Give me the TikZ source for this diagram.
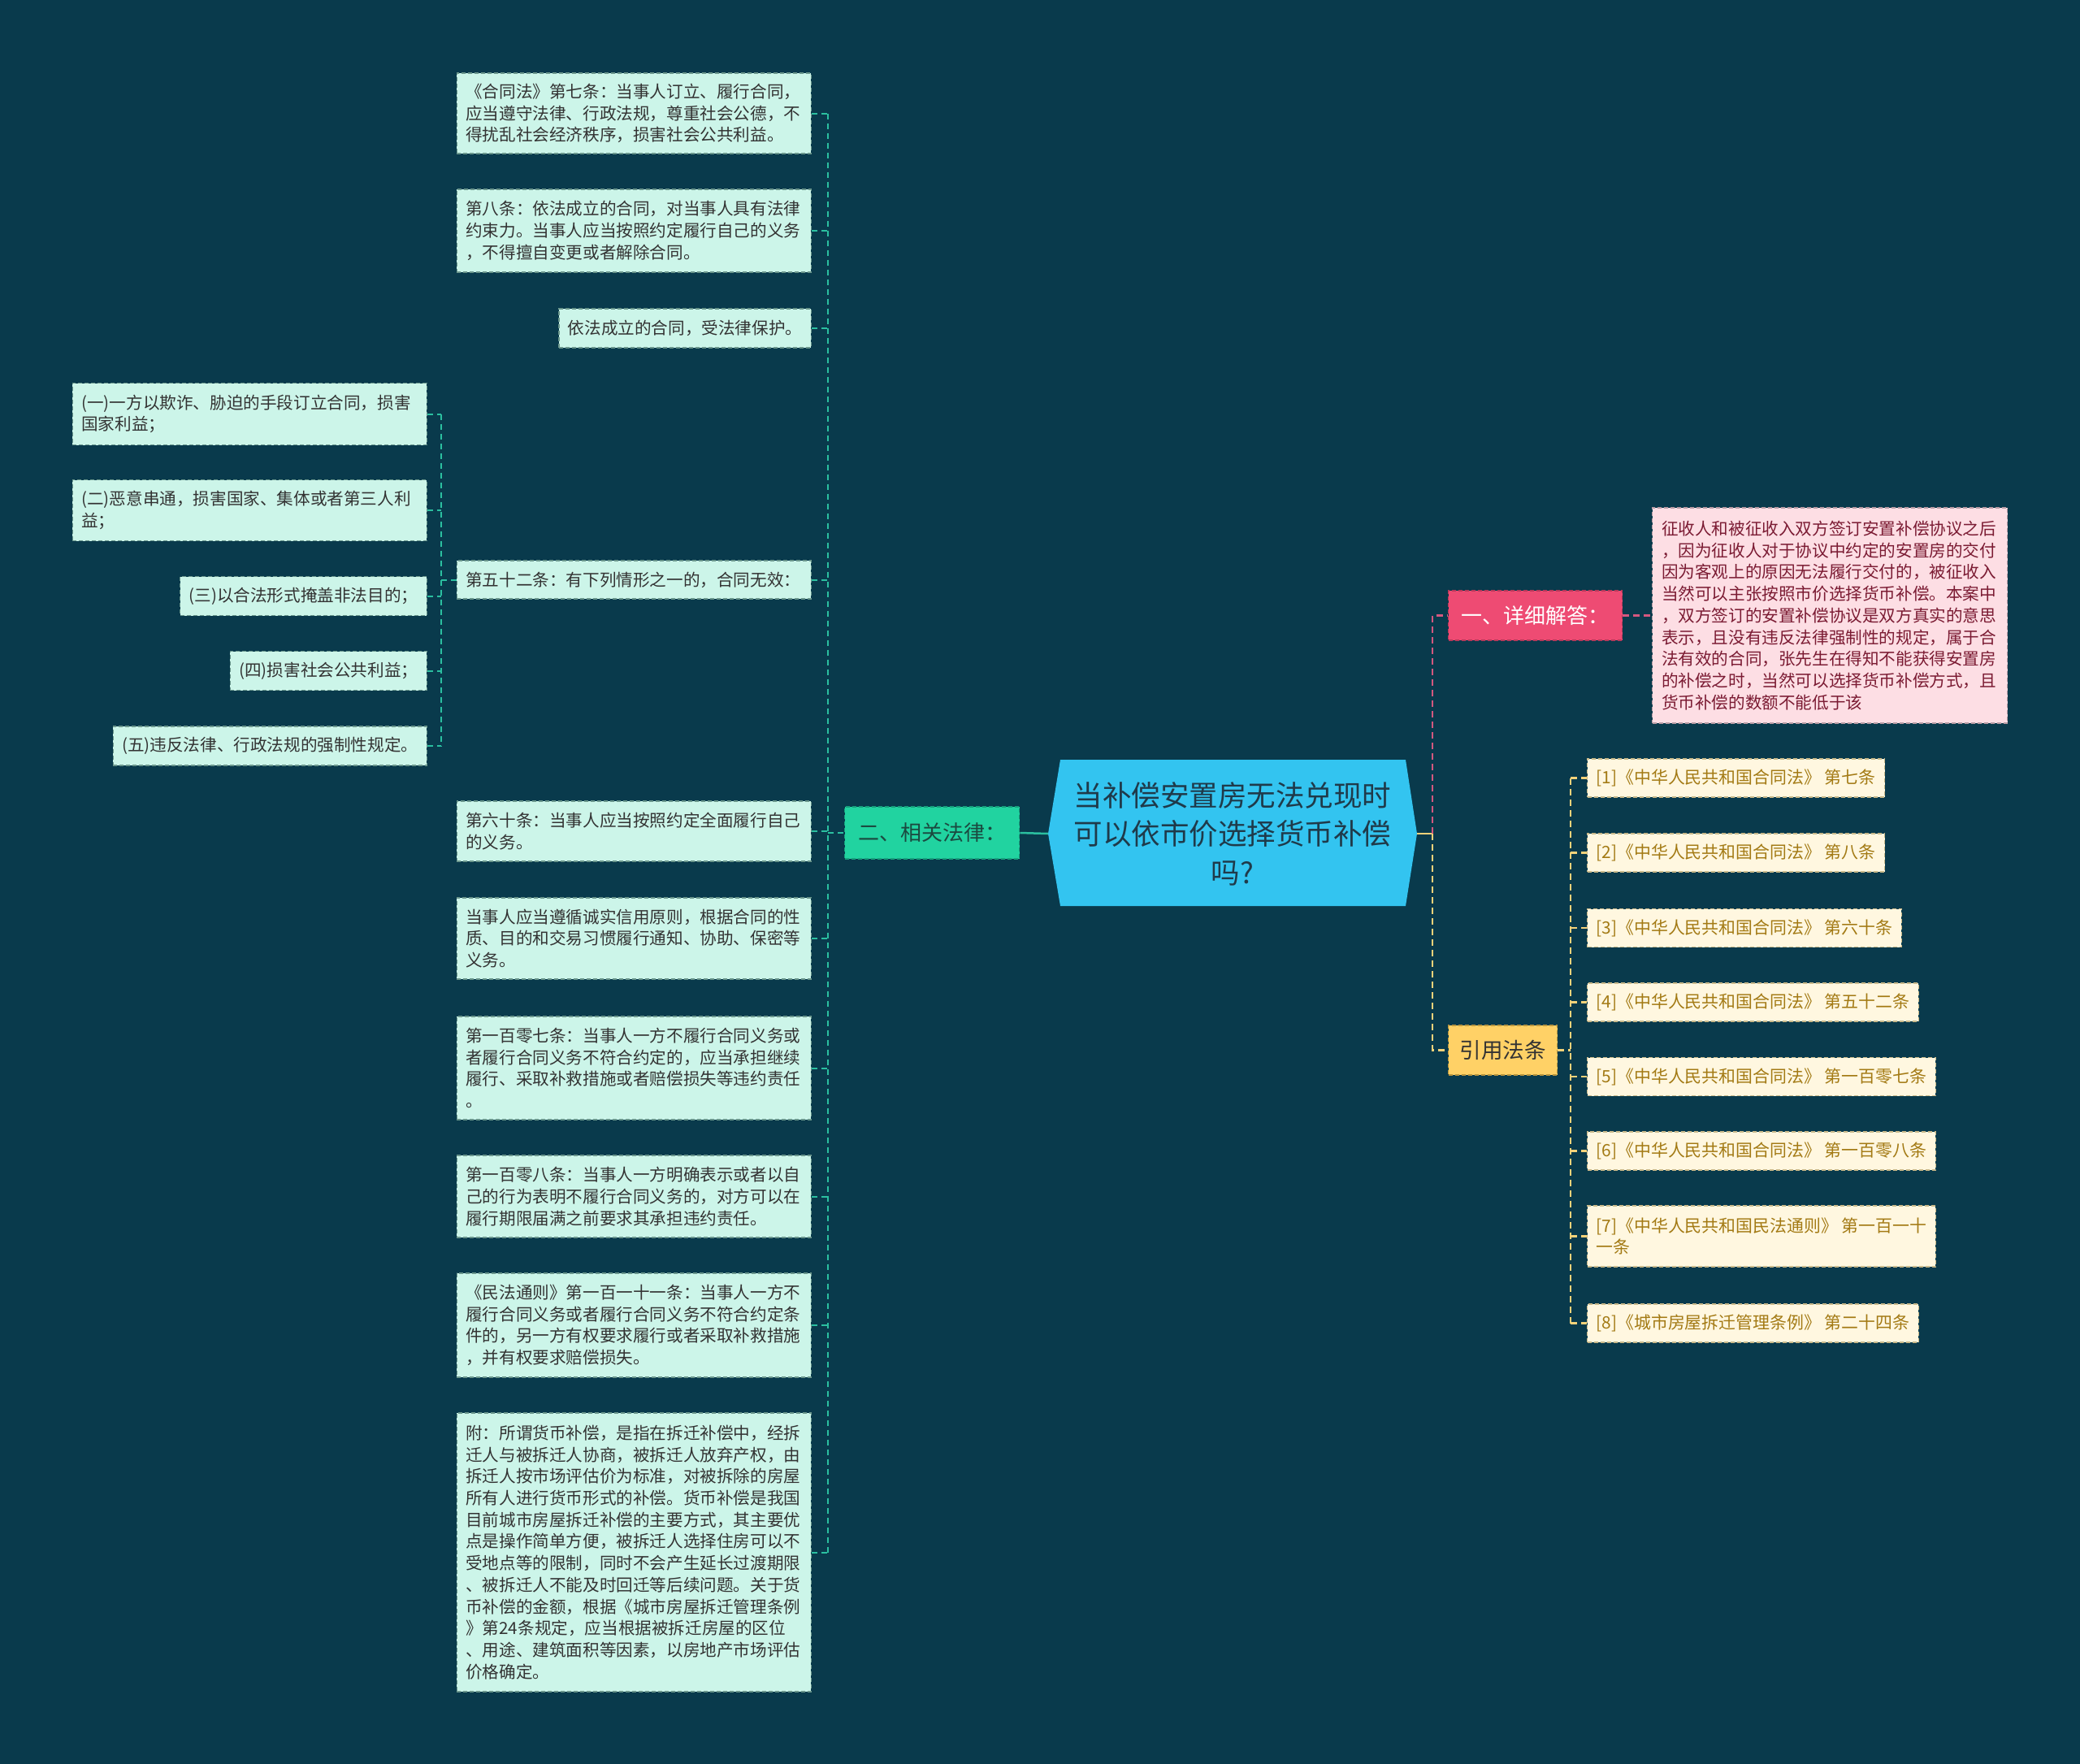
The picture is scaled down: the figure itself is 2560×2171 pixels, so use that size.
\documentclass[tikz,border=0pt]{standalone}
\usepackage{fontspec}
\setmainfont{Noto Sans CJK SC}
\definecolor{bgc}{HTML}{093A4C}
\definecolor{mint}{HTML}{CCF5E9}
\definecolor{mintb}{HTML}{6A968C}
\definecolor{leaftext}{HTML}{333333}
\definecolor{relc}{HTML}{21D3A0}
\definecolor{relb}{HTML}{17A07C}
\definecolor{relt}{HTML}{1B4A40}
\definecolor{cenc}{HTML}{33C4F0}
\definecolor{cent}{HTML}{1F3A4A}
\definecolor{ansc}{HTML}{EE4B73}
\definecolor{ansb}{HTML}{B8385A}
\definecolor{pinkc}{HTML}{FDDEE4}
\definecolor{pinkb}{HTML}{B99CA5}
\definecolor{pinkt}{HTML}{7B1B33}
\definecolor{citec}{HTML}{FFD166}
\definecolor{citeb}{HTML}{B8953F}
\definecolor{refc}{HTML}{FFF7E0}
\definecolor{refb}{HTML}{C9B98A}
\definecolor{reft}{HTML}{A37A14}
\definecolor{tealln}{HTML}{2BBFA0}
\definecolor{pinkln}{HTML}{D4587F}
\definecolor{yelln}{HTML}{F4D27A}
\begin{document}
\begin{tikzpicture}[x=1pt,y=-1pt,
  boxbase/.style={dash pattern=on 5pt off 3pt, line width=1.3pt, inner ysep=4pt},
  leaf/.style={boxbase, draw=mintb, fill=mint, text=leaftext,
    font=\fontsize{20.6}{26.7}\selectfont, align=left, inner xsep=11pt},
  wide/.style={leaf, text width=414pt},
  refbox/.style={boxbase, draw=refb, fill=refc, text=reft,
    font=\fontsize{20.9}{26.7}\selectfont, align=left, inner xsep=11pt, minimum height=47pt, anchor=west},
  tealdash/.style={draw=tealln, line width=2pt, dash pattern=on 7pt off 5pt},
  tealsolid/.style={draw=tealln, line width=2.5pt},
  pinkdash/.style={draw=pinkln, line width=2.5pt, dash pattern=on 8pt off 5pt},
  yelldash/.style={draw=yelln, line width=2.5pt, dash pattern=on 8pt off 5pt},
  yellsolid/.style={draw=yelln, line width=2.5pt}]
\fill[bgc] (0,0) rectangle (2560,2171);
\useasboundingbox (0,0) rectangle (2560,2171);

% left column
\node[wide, anchor=east, minimum height=99pt] (L1) at (999,139.5) {《合同法》第七条：当事人订立、履行合同，\\应当遵守法律、行政法规，尊重社会公德，不\\得扰乱社会经济秩序，损害社会公共利益。};
\node[wide, anchor=east, minimum height=102pt] (L2) at (999,284) {第八条：依法成立的合同，对当事人具有法律\\约束力。当事人应当按照约定履行自己的义务\\，不得擅自变更或者解除合同。};
\node[leaf, anchor=east, minimum height=48pt] (L3) at (999,404) {依法成立的合同，受法律保护。};
\node[wide, anchor=east, minimum height=47pt] (L52) at (999,713.5) {第五十二条：有下列情形之一的，合同无效：};
\node[wide, anchor=east, minimum height=74pt] (L60) at (999,1023) {第六十条：当事人应当按照约定全面履行自己\\的义务。};
\node[wide, anchor=east, minimum height=100pt] (Lcx) at (999,1155) {当事人应当遵循诚实信用原则，根据合同的性\\质、目的和交易习惯履行通知、协助、保密等\\义务。};
\node[wide, anchor=east, minimum height=127pt] (L107) at (999,1314.5) {第一百零七条：当事人一方不履行合同义务或\\者履行合同义务不符合约定的，应当承担继续\\履行、采取补救措施或者赔偿损失等违约责任\\。};
\node[wide, anchor=east, minimum height=101pt] (L108) at (999,1472.5) {第一百零八条：当事人一方明确表示或者以自\\己的行为表明不履行合同义务的，对方可以在\\履行期限届满之前要求其承担违约责任。};
\node[wide, anchor=east, minimum height=128pt] (Lmf) at (999,1631) {《民法通则》第一百一十一条：当事人一方不\\履行合同义务或者履行合同义务不符合约定条\\件的，另一方有权要求履行或者采取补救措施\\，并有权要求赔偿损失。};
\node[wide, anchor=east, minimum height=343pt] (Lfu) at (999,1910.5) {附：所谓货币补偿，是指在拆迁补偿中，经拆\\迁人与被拆迁人协商，被拆迁人放弃产权，由\\拆迁人按市场评估价为标准，对被拆除的房屋\\所有人进行货币形式的补偿。货币补偿是我国\\目前城市房屋拆迁补偿的主要方式，其主要优\\点是操作简单方便，被拆迁人选择住房可以不\\受地点等的限制，同时不会产生延长过渡期限\\、被拆迁人不能及时回迁等后续问题。关于货\\币补偿的金额，根据《城市房屋拆迁管理条例\\》第24条规定，应当根据被拆迁房屋的区位\\、用途、建筑面积等因素，以房地产市场评估\\价格确定。};

% sub items of 52
\node[wide, anchor=east, minimum height=76pt] (S1) at (526,509.5) {(一)一方以欺诈、胁迫的手段订立合同，损害\\国家利益；};
\node[wide, anchor=east, minimum height=75pt] (S2) at (526,628) {(二)恶意串通，损害国家、集体或者第三人利\\益；};
\node[leaf, anchor=east, minimum height=48pt] (S3) at (526,733.5) {(三)以合法形式掩盖非法目的；};
\node[leaf, anchor=east, minimum height=48pt] (S4) at (526,825.5) {(四)损害社会公共利益；};
\node[leaf, anchor=east, minimum height=48pt] (S5) at (526,918) {(五)违反法律、行政法规的强制性规定。};

% central
\coordinate (cw) at (1290,1026);
\coordinate (ce) at (1744,1026);
\fill[cenc] (cw) -- (1305,935) -- (1730,935) -- (ce) -- (1730,1115) -- (1305,1115) -- cycle;
\node[text=cent, font=\fontsize{35.5}{47.5}\selectfont, align=center] (C) at (1517,1026) {当补偿安置房无法兑现时\\可以依市价选择货币补偿\\吗?};

% branch nodes
\node[boxbase, draw=relb, fill=relc, text=relt, font=\fontsize{26}{30}\selectfont, anchor=west, minimum width=215pt, minimum height=64pt] (rel) at (1039,1025) {二、相关法律：};
\node[boxbase, draw=ansb, fill=ansc, text=white, font=\fontsize{26}{30}\selectfont, anchor=west, minimum width=214pt, minimum height=61pt] (ans) at (1782,757.5) {一、详细解答：};
\node[boxbase, draw=pinkb, fill=pinkc, text=pinkt, font=\fontsize{20.6}{26.7}\selectfont, align=left, text width=414pt, inner xsep=11.5pt, anchor=west, minimum height=265pt] (ansbox) at (2033,757.5) {征收人和被征收入双方签订安置补偿协议之后\\，因为征收人对于协议中约定的安置房的交付\\因为客观上的原因无法履行交付的，被征收入\\当然可以主张按照市价选择货币补偿。本案中\\，双方签订的安置补偿协议是双方真实的意思\\表示，且没有违反法律强制性的规定，属于合\\法有效的合同，张先生在得知不能获得安置房\\的补偿之时，当然可以选择货币补偿方式，且\\货币补偿的数额不能低于该};
\node[boxbase, draw=citeb, fill=citec, text=leaftext, font=\fontsize{26.5}{30}\selectfont, anchor=west, minimum width=134pt, minimum height=61pt] (cite) at (1782,1292.5) {引用法条};

% references
\node[refbox] (R1) at (1953,957.5) {[1]《中华人民共和国合同法》 第七条};
\node[refbox] (R2) at (1953,1049.5) {[2]《中华人民共和国合同法》 第八条};
\node[refbox] (R3) at (1953,1142) {[3]《中华人民共和国合同法》 第六十条};
\node[refbox] (R4) at (1953,1233.5) {[4]《中华人民共和国合同法》 第五十二条};
\node[refbox] (R5) at (1953,1325) {[5]《中华人民共和国合同法》 第一百零七条};
\node[refbox] (R6) at (1953,1416.5) {[6]《中华人民共和国合同法》 第一百零八条};
\node[refbox, minimum height=75pt] (R7) at (1953,1521.5) {[7]《中华人民共和国民法通则》 第一百一十\\一条};
\node[refbox] (R8) at (1953,1628.5) {[8]《城市房屋拆迁管理条例》 第二十四条};

% trunks
\coordinate (lt) at (1019,1025);
\coordinate (st) at (543,713.5);
\coordinate (rt) at (1763,1026);
\coordinate (ct) at (1933,1292.5);

% left connectors
\draw[tealdash] (L1.east -| lt) -- (Lfu.east -| lt);
\foreach \n in {L1,L2,L3,L52,L60,Lcx,L107,L108,Lmf,Lfu}
  \draw[tealdash] (\n.east) -- (\n.east -| lt);
\draw[tealdash] (lt) -- (rel.west);
\draw[tealsolid] (rel.east) -- (cw);
\draw[tealdash] (S1.east -| st) -- (S5.east -| st);
\draw[tealdash] (L52.west) -- (st);
\foreach \n in {S1,S2,S3,S4,S5}
  \draw[tealdash] (\n.east) -- (\n.east -| st);

% right connectors
\draw[yellsolid] (ce) -- (rt);
\draw[pinkdash] (rt) -- (rt |- ans.west) -- (ans.west);
\draw[pinkdash] (ans.east) -- (ansbox.west);
\draw[yelldash] (rt) -- (rt |- cite.west) -- (cite.west);
\draw[yelldash] (cite.east) -- (ct);
\draw[yelldash] (R1.west -| ct) -- (R8.west -| ct);
\foreach \n in {R1,R2,R3,R4,R5,R6,R7,R8}
  \draw[yelldash] (\n.west -| ct) -- (\n.west);
\end{tikzpicture}
\end{document}
